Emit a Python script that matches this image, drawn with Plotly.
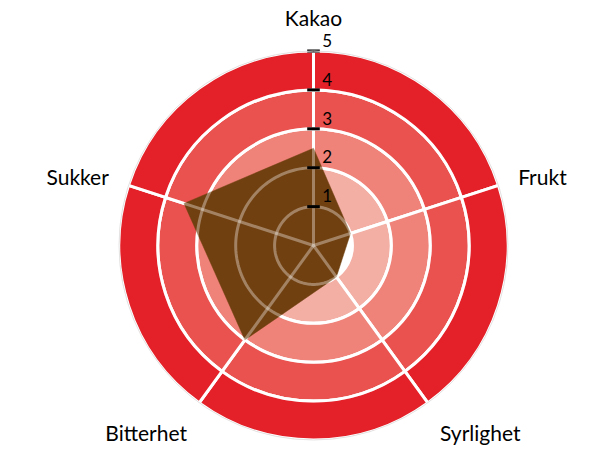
import plotly.graph_objects as go

# Data
categories = ["Kakao", "Frukt", "Syrlighet", "Bitterhet", "Sukker"]
scores = [2.5, 1.0, 1.0, 3.0, 3.5]
band_edges = [0, 1, 2, 3, 4, 5]
tick_vals = [1, 2, 3, 4, 5]
tick_labels = ["1", "2", "3", "4", "5"]

# Colors
band_colors = ["#FFFFFF", "#F4AFA5", "#EF8279", "#E9524F", "#E42129"]
fill_color = "#704010"
font_family = "Lato, 'Open Sans', sans-serif"

# angles for the categories (clockwise from top)
step = 360 / len(categories)
cat_angles = [i * step for i in range(len(categories))]
seg_angles = [a + step / 2 for a in cat_angles]
circle_theta = list(range(0, 361, 2))

fig = go.Figure()

# Background bands, one barpolar per ring; the bar outlines give the white grid
for inner, outer, color in zip(band_edges[:-1], band_edges[1:], band_colors):
    fig.add_trace(
        go.Barpolar(
            r=[outer - inner] * len(seg_angles),
            base=[inner] * len(seg_angles),
            theta=seg_angles,
            width=[step] * len(seg_angles),
            marker=dict(color=color, line=dict(color="white", width=3)),
            hoverinfo="skip",
            showlegend=False,
        )
    )

# The flavour profile
fig.add_trace(
    go.Scatterpolar(
        r=scores + scores[:1],
        theta=cat_angles + cat_angles[:1],
        fill="toself",
        fillcolor=fill_color,
        mode="lines",
        line=dict(color=fill_color, width=0.5),
        text=categories + categories[:1],
        hovertemplate="%{text}: %{r}<extra></extra>",
        showlegend=False,
    )
)

# Faint grid on top of the polygon (rings + spokes)
grid_line = dict(color="rgba(255,255,255,0.35)", width=3)
for ring in band_edges[1:-1]:
    fig.add_trace(
        go.Scatterpolar(
            r=[ring] * len(circle_theta),
            theta=circle_theta,
            mode="lines",
            line=grid_line,
            hoverinfo="skip",
            showlegend=False,
        )
    )
for a in cat_angles:
    fig.add_trace(
        go.Scatterpolar(
            r=[0, band_edges[-1]],
            theta=[a, a],
            mode="lines",
            line=grid_line,
            hoverinfo="skip",
            showlegend=False,
        )
    )

# Radial axis: black tick marks
fig.add_trace(
    go.Scatterpolar(
        r=tick_vals,
        theta=[0] * len(tick_vals),
        mode="markers",
        marker=dict(
            symbol="line-ew", size=9, line=dict(color="black", width=3)
        ),
        hoverinfo="skip",
        showlegend=False,
    )
)
# ... and their labels, just above and to the right
fig.add_trace(
    go.Scatterpolar(
        r=tick_vals,
        theta=[0] * len(tick_vals),
        mode="text",
        text=["\u00a0\u00a0" + t for t in tick_labels],
        textposition="top right",
        textfont=dict(size=17, color="black", family=font_family),
        marker=dict(size=2),
        hoverinfo="skip",
        showlegend=False,
        cliponaxis=False,
    )
)

fig.update_layout(
    width=610,
    height=450,
    margin=dict(l=111, r=110, t=43, b=18),
    paper_bgcolor="white",
    font=dict(family=font_family, color="black"),
    barmode="overlay",
    polar=dict(
        bgcolor="rgba(0,0,0,0)",
        domain=dict(x=[0, 1], y=[0, 1]),
        angularaxis=dict(
            rotation=90,
            direction="clockwise",
            tickmode="array",
            tickvals=cat_angles,
            ticktext=categories,
            tickfont=dict(size=21, color="black"),
            ticks="outside",
            ticklen=16,
            tickcolor="rgba(0,0,0,0)",
            showgrid=False,
            showline=True,
            linecolor="#E4E4E4",
            linewidth=1,
        ),
        radialaxis=dict(
            range=[0, 5],
            angle=90,
            tickmode="array",
            tickvals=tick_vals,
            showticklabels=False,
            ticks="",
            showgrid=False,
            showline=False,
        ),
    ),
)

fig.write_html("out.html")
